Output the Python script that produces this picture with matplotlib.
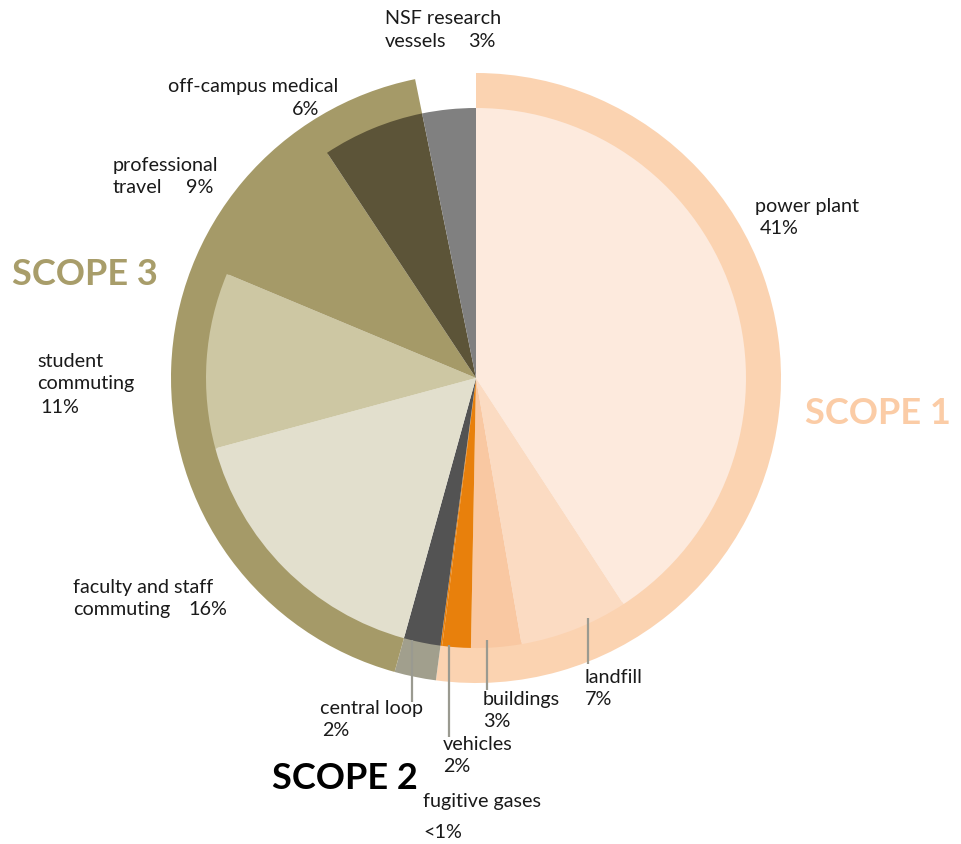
"""
Campus greenhouse gas emissions by source, grouped into scopes
"""
import matplotlib.pyplot as plt

# slices, clockwise from 12 o'clock (share of the full circle, %)
sources = ['power plant', 'landfill', 'buildings', 'vehicles', 'fugitive gases',
           'central loop', 'faculty and staff commuting', 'student commuting',
           'professional travel', 'off-campus medical', 'NSF research vessels']
shares = [40.8, 6.5, 3.0, 1.7, 0.1, 2.2, 16.5, 10.5, 9.4, 6.1, 3.2]
pct_labels = ['41%', '7%', '3%', '2%', '<1%', '2%', '16%', '11%', '9%', '6%', '3%']
slice_colors = ['#fdeadd', '#fbdbc2', '#f9c8a2', '#e8800c', '#e8800c',
                '#535353', '#e2dfcd', '#cdc7a3', '#a59a68', '#5c5438', '#808080']

# outer ring: scope groups (NSF vessels has no ring)
scopes = ['SCOPE 1', 'SCOPE 2', 'SCOPE 3', '']
scope_members = [5, 1, 4, 1]
scope_colors = ['#fbd3b1', '#a19f8d', '#a59a68', 'none']
scope_text_colors = ['#fbcca6', 'black', '#a89d6a']

W, H = 961, 844
cx, cy = 476, H - 378
r_in, r_out = 270, 305

plt.rcParams['font.family'] = ['Lato', 'DejaVu Sans']
fig = plt.figure(figsize=(W / 100, H / 100), dpi=100)
ax = fig.add_axes([0, 0, 1, 1])

# ring values built from the slice shares
ring_vals = []
i = 0
for n in scope_members:
    ring_vals.append(sum(shares[i:i + n]))
    i += n

ax.pie(ring_vals, colors=scope_colors, startangle=90, counterclock=False,
       radius=r_out, center=(cx, cy), wedgeprops=dict(linewidth=0, width=r_out - r_in + 2))
ax.pie(shares, colors=slice_colors, startangle=90, counterclock=False,
       radius=r_in, center=(cx, cy), wedgeprops=dict(linewidth=0))

ax.set_xlim(0, W)
ax.set_ylim(0, H)
ax.set_aspect('equal')
ax.axis('off')


def txt(x, y, s, **kw):
    # positions given in picture pixels, top-left origin
    kw.setdefault('fontsize', 14.2)
    kw.setdefault('color', '#1a1a1a')
    ax.text(x, H - y - 4, s, ha='left', va='top', **kw)


def leader(x, y0, y1):
    ax.plot([x, x], [H - y0, H - y1], color='#9a9a90', lw=1.6, solid_capstyle='butt')


# slice labels
txt(385, 6, 'NSF research')
txt(385, 29, 'vessels')
txt(468, 29, pct_labels[10])
txt(168, 74, 'off-campus medical')
txt(292, 97, pct_labels[9])
txt(113, 153, 'professional')
txt(113, 175, 'travel')
txt(186, 175, pct_labels[8])
txt(37, 349, 'student')
txt(37, 371, 'commuting')
txt(40, 395, pct_labels[7])
txt(73, 575, 'faculty and staff')
txt(73, 597, 'commuting')
txt(188, 597, pct_labels[6])
txt(320, 696, 'central loop')
txt(322, 718, pct_labels[5])
txt(443, 732, 'vehicles')
txt(443, 754, pct_labels[3])
txt(423, 789, 'fugitive gases')
txt(423, 820, pct_labels[4])
txt(483, 687, 'buildings')
txt(483, 709, pct_labels[2])
txt(585, 665, 'landfill')
txt(585, 687, pct_labels[1])
txt(755, 194, 'power plant')
txt(760, 216, pct_labels[0])

leader(588, 618, 664)
leader(487, 640, 690)
leader(449, 645, 737)
leader(412, 640, 702)

# scope headings
txt(805, 393, scopes[0], fontsize=26, fontweight='bold', color=scope_text_colors[0])
txt(272, 758, scopes[1], fontsize=26, fontweight='bold', color=scope_text_colors[1])
txt(12, 254, scopes[2], fontsize=26, fontweight='bold', color=scope_text_colors[2])

fig.savefig('out.png', dpi=100)
